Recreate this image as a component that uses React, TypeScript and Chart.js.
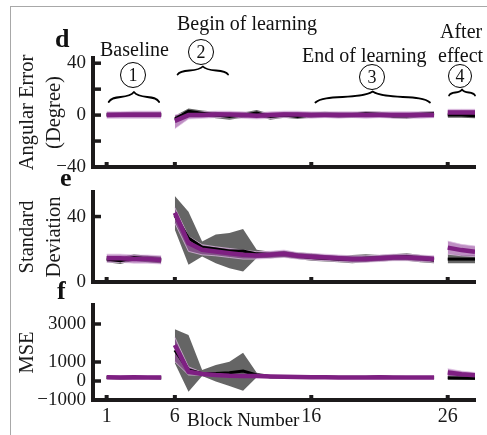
import React, { useEffect, useRef } from 'react';
import { Chart, registerables } from 'chart.js';

Chart.register(...registerables);

// ---------- data ----------
const BLOCKS = [1, 2, 3, 4, 5, 6, 7, 8, 9, 10, 11, 12, 13, 14, 15, 16, 17, 18, 19, 20, 21, 22, 23, 24, 25, 26, 27, 28];
const SEGMENTS = [[1, 5], [6, 25], [26, 28]];
const X_TICKS = [1, 6, 16, 26];

// d: angular error (degree)
const dBlackMean = [0.3, 0.2, 0.5, 0.4, 0.2, -3, 3, 1.5, 0, -1, 0, 1.5, -1, 0, -1, 0, 0.5, 0, 0, 1, 0.5, -0.5, -0.5, 0.5, 1, 0, 0, -0.5];
const dBlackLo = [-1.5, -1.5, -1, -1, -1.5, -6, 0.5, -0.5, -2.5, -3.5, -2, -0.5, -3.5, -2, -3, -2, -1.5, -2, -2, -1, -1.5, -2.5, -3, -1.5, -1, -2, -2, -2.5];
const dBlackHi = [2, 2, 2, 2, 2, -0.5, 5, 3.5, 2.5, 1.5, 2, 4, 1, 2, 1.5, 2, 2.5, 2, 2, 3, 2.5, 1.5, 1.5, 2.5, 3, 2, 2, 1.5];
const dPurpleMean = [0, 0.2, 0.2, 0.3, 0.3, -4.5, 0, 0, 0.5, 0.5, 0, -0.5, 0, 0.5, 0.5, 0, 0, 0, 0, 0, 0, 0, 0, 0, 0, 2, 2, 2];
const dPurpleLo = [-2.5, -2.5, -2.5, -2.5, -2.5, -10.5, -3, -2.5, -2, -2, -2.5, -3, -2.5, -2, -2, -2.5, -2, -2.5, -2, -2.5, -2, -2.5, -2.5, -2.5, -2, -0.5, -0.5, -0.5];
const dPurpleHi = [2.5, 2.5, 3, 3, 3, 0, 2.5, 2.5, 3, 3, 2.5, 2, 2.5, 3, 3, 2.5, 2.5, 2.5, 2.5, 2.5, 2.5, 2.5, 2.5, 2.5, 2.5, 4.5, 4.5, 4.5];
const dTicks = [-40, -20, 0, 20, 40];
const dLabeled = [-40, 0, 40];

// e: standard deviation
const eBlackMean = [14, 13, 15, 14, 13.5, 40.6, 26.9, 21.3, 20.1, 19, 19, 17.2, 16.6, 17.2, 16, 15, 14.5, 14, 14, 14.5, 14.5, 15, 15.5, 14.5, 13.5, 14, 14, 14];
const eBlackLo = [12, 11, 13, 12, 11.5, 32, 10.5, 15.6, 11.5, 8.4, 6.4, 14.6, 14.5, 15, 14, 13, 12.5, 12, 11.5, 12, 12.5, 13, 13, 12, 11.5, 11.5, 11.5, 11.5];
const eBlackHi = [16, 15, 17, 16, 15.5, 52.5, 43, 24.8, 29, 30, 32.4, 19.7, 18.5, 19, 18, 17.5, 16.5, 16, 16.5, 17, 16.5, 17, 17.5, 16.5, 15.5, 17, 16.5, 16];
const ePurpleMean = [14.5, 14.5, 14, 14, 13.5, 42.3, 23.8, 19.7, 18.7, 17.6, 16.6, 16.2, 16.6, 17.2, 16, 15.5, 15, 14.5, 14, 14, 14.5, 15, 15, 14.5, 14, 21, 19.5, 18.5];
const ePurpleLo = [12, 12, 11.5, 11.5, 11, 36, 18.7, 16.6, 16, 15, 14, 14, 14.5, 15, 14, 13.5, 13, 12.5, 12, 12, 12.5, 13, 13, 12.5, 12, 17, 16, 15.5];
const ePurpleHi = [17, 17, 16.5, 16.5, 16, 45.5, 27.9, 22.8, 21.5, 20.5, 19.5, 18.5, 18.8, 19.5, 18, 17.5, 17, 16.5, 16, 16, 16.5, 17, 17, 16.5, 16, 25, 23, 22];
const eTicks = [0, 40];
const eLabeled = [0, 40];

// f: MSE
const fBlackMean = [180, 170, 190, 180, 170, 1630, 580, 400, 400, 440, 525, 315, 230, 220, 210, 200, 200, 190, 190, 190, 200, 190, 180, 180, 180, 170, 160, 150];
const fBlackLo = [100, 90, 110, 100, 90, 930, -560, 260, -30, -260, -510, 195, 150, 140, 130, 120, 120, 110, 110, 110, 120, 110, 100, 100, 100, 50, 50, 50];
const fBlackHi = [260, 250, 270, 260, 250, 2720, 2420, 580, 840, 1015, 1490, 440, 310, 300, 290, 280, 280, 270, 270, 270, 280, 270, 260, 260, 260, 300, 280, 260];
const fPurpleMean = [200, 190, 200, 190, 180, 1895, 490, 370, 315, 280, 263, 263, 240, 220, 210, 200, 200, 190, 190, 190, 200, 190, 180, 180, 180, 450, 350, 300];
const fPurpleLo = [110, 100, 110, 100, 90, 1020, 315, 300, 250, 220, 200, 200, 180, 160, 150, 140, 140, 130, 130, 130, 140, 130, 120, 120, 120, 250, 200, 180];
const fPurpleHi = [290, 280, 290, 280, 270, 2300, 750, 450, 380, 340, 330, 330, 300, 280, 270, 260, 260, 250, 250, 250, 260, 250, 240, 240, 240, 650, 520, 450];
const fTicks = [-1000, 0, 1000, 3000];
const fLabeled = [-1000, 0, 1000, 3000];

// ---------- style ----------
const SERIF = '"Liberation Serif", "Times New Roman", serif';
const AXIS = '#1c1a1b';
const PURPLE = '#7e2082';
const PURPLE_BAND = 'rgba(150, 75, 158, 0.62)';
const PURPLE_EDGE = 'rgba(225, 195, 228, 0.9)';
const GRAY_BAND = 'rgba(80, 80, 80, 0.88)';

const fmt = (v: number) => (v < 0 ? '\u2212' + Math.abs(v) : String(v));

const axisNubs = {
  id: 'axisNubs',
  afterDatasetsDraw(chart: any) {
    const { ctx, chartArea, scales } = chart;
    ctx.save();
    ctx.strokeStyle = AXIS;
    ctx.lineCap = 'butt';
    ctx.lineWidth = 3.5;
    scales.y.ticks.forEach((t: any) => {
      const p = scales.y.getPixelForValue(t.value);
      ctx.beginPath();
      ctx.moveTo(chartArea.left, p);
      ctx.lineTo(chartArea.left + 8, p);
      ctx.stroke();
    });
    ctx.lineWidth = 4;
    scales.x.ticks.forEach((t: any) => {
      const p = scales.x.getPixelForValue(t.value);
      ctx.beginPath();
      ctx.moveTo(p, chartArea.bottom);
      ctx.lineTo(p, chartArea.bottom - 5);
      ctx.stroke();
    });
    ctx.restore();
  },
};

const bracePlugin = {
  id: 'braces',
  afterDraw(chart: any, _args: any, opts: any) {
    const items = opts && opts.items;
    if (!items) return;
    const { ctx } = chart;
    const xs = chart.scales.x;
    ctx.save();
    ctx.strokeStyle = '#000';
    ctx.lineWidth = 1.8;
    ctx.lineCap = 'round';
    ctx.lineJoin = 'round';
    for (const b of items) {
      const x1 = xs.getPixelForValue(b.from);
      const x2 = xs.getPixelForValue(b.to);
      const W = x2 - x1;
      const mid = (x1 + x2) / 2;
      const y = b.y;
      const h = b.h;
      ctx.beginPath();
      ctx.moveTo(x1, y + h);
      ctx.bezierCurveTo(x1 + 0.08 * W, y - 0.6 * h, mid - 0.12 * W, y + 0.6 * h, mid, y - h);
      ctx.bezierCurveTo(mid + 0.12 * W, y + 0.6 * h, x2 - 0.08 * W, y - 0.6 * h, x2, y + h);
      ctx.stroke();
    }
    ctx.restore();
  },
};

type Spec = {
  blackMean: number[]; blackLo: number[]; blackHi: number[];
  purpleMean: number[]; purpleLo: number[]; purpleHi: number[];
  yMin: number; yMax: number; yTicks: number[]; yLabeled: number[];
  title: string[]; showX: boolean; padTop: number; xHeight: number; height: number;
  braces?: any[];
};

function buildDatasets(p: Spec) {
  const ds: any[] = [];
  for (const [a, b] of SEGMENTS) {
    const idx = BLOCKS.map((_, i) => i).filter((i) => BLOCKS[i] >= a && BLOCKS[i] <= b);
    const pts = (arr: number[]) => idx.map((i) => ({ x: BLOCKS[i], y: arr[i] }));
    const gLo = ds.length;
    ds.push({ data: pts(p.blackLo), borderColor: 'rgba(0,0,0,0)', borderWidth: 0, pointRadius: 0, fill: false, order: 10 });
    ds.push({ data: pts(p.blackHi), borderColor: 'rgba(0,0,0,0)', borderWidth: 0, pointRadius: 0, fill: gLo, backgroundColor: GRAY_BAND, order: 10 });
    const pLo = ds.length;
    ds.push({ data: pts(p.purpleLo), borderColor: PURPLE_EDGE, borderWidth: 0.8, pointRadius: 0, fill: false, order: 8 });
    ds.push({ data: pts(p.purpleHi), borderColor: PURPLE_EDGE, borderWidth: 0.8, pointRadius: 0, fill: pLo, backgroundColor: PURPLE_BAND, order: 8 });
    ds.push({ data: pts(p.blackMean), borderColor: '#000', borderWidth: 3, pointRadius: 0, fill: false, order: 2 });
    ds.push({ data: pts(p.purpleMean), borderColor: PURPLE, borderWidth: 4.5, pointRadius: 0, fill: false, order: 1 });
  }
  return ds;
}

function makeConfig(p: Spec): any {
  return {
    type: 'line',
    data: { datasets: buildDatasets(p) },
    plugins: [axisNubs, bracePlugin],
    options: {
      animation: false,
      responsive: false,
      layout: { padding: { top: p.padTop, right: 12, left: 0, bottom: 0 } },
      elements: { line: { tension: 0 } },
      plugins: {
        legend: { display: false },
        tooltip: { enabled: false },
        braces: { items: p.braces || null },
      },
      scales: {
        x: {
          type: 'linear',
          min: 0,
          max: 28,
          afterBuildTicks: (s: any) => { s.ticks = X_TICKS.map((v) => ({ value: v })); },
          afterFit: (s: any) => { s.height = p.xHeight; s.paddingLeft = 0; s.paddingRight = 0; s.paddingTop = 0; s.paddingBottom = 0; },
          grid: { display: false, drawTicks: false },
          border: { display: true, width: 4, color: AXIS },
          ticks: {
            display: p.showX,
            autoSkip: false,
            maxRotation: 0,
            padding: 5,
            color: '#1a1a1a',
            font: { family: SERIF, size: 20 },
            callback: (v: any) => String(v),
          },
        },
        y: {
          type: 'linear',
          min: p.yMin,
          max: p.yMax,
          afterBuildTicks: (s: any) => { s.ticks = p.yTicks.map((v) => ({ value: v })); },
          afterFit: (s: any) => { s.width = 93; s.paddingTop = 0; s.paddingBottom = 0; s.paddingLeft = 0; s.paddingRight = 0; },
          grid: { display: false, drawTicks: false },
          border: { display: true, width: 4, color: AXIS },
          ticks: {
            autoSkip: false,
            padding: 7,
            color: '#1a1a1a',
            font: { family: SERIF, size: 19 },
            callback: (v: any) => (p.yLabeled.includes(v) ? fmt(v) : ''),
          },
          title: {
            display: true,
            text: p.title,
            color: '#1a1a1a',
            font: { family: SERIF, size: 20.5, lineHeight: 1.3 },
            padding: { top: 14.5, bottom: 0 },
          },
        },
      },
    },
  };
}

const SPEC_D: Spec = {
  blackMean: dBlackMean, blackLo: dBlackLo, blackHi: dBlackHi,
  purpleMean: dPurpleMean, purpleLo: dPurpleLo, purpleHi: dPurpleHi,
  yMin: -40, yMax: 44, yTicks: dTicks, yLabeled: dLabeled,
  title: ['Angular Error', '(Degree)'], showX: false, padTop: 58, xHeight: 8, height: 175,
  braces: [
    { from: 1.15, to: 4.85, y: 97, h: 5 },
    { from: 6.2, to: 9.9, y: 70.5, h: 4 },
    { from: 16.3, to: 24.7, y: 97, h: 5.5 },
    { from: 26.1, to: 28, y: 92.5, h: 3 },
  ],
};
const SPEC_E: Spec = {
  blackMean: eBlackMean, blackLo: eBlackLo, blackHi: eBlackHi,
  purpleMean: ePurpleMean, purpleLo: ePurpleLo, purpleHi: ePurpleHi,
  yMin: 0, yMax: 55, yTicks: eTicks, yLabeled: eLabeled,
  title: ['Standard', 'Deviation'], showX: false, padTop: 17, xHeight: 8, height: 115,
};
const SPEC_F: Spec = {
  blackMean: fBlackMean, blackLo: fBlackLo, blackHi: fBlackHi,
  purpleMean: fPurpleMean, purpleLo: fPurpleLo, purpleHi: fPurpleHi,
  yMin: -1000, yMax: 4000, yTicks: fTicks, yLabeled: fLabeled,
  title: ['MSE'], showX: true, padTop: 15, xHeight: 35, height: 145,
};

function Panel({ spec, top }: { spec: Spec; top: number }) {
  const ref = useRef<HTMLCanvasElement>(null);
  useEffect(() => {
    const chart = new Chart(ref.current as HTMLCanvasElement, makeConfig(spec));
    return () => chart.destroy();
  }, [spec]);
  return (
    <canvas
      ref={ref}
      width={487}
      height={spec.height}
      style={{ position: 'absolute', left: 0, top, width: 487, height: spec.height }}
    />
  );
}

const txt = (left: number, top: number, size = 20, bold = false): React.CSSProperties => ({
  position: 'absolute',
  left,
  top,
  fontFamily: SERIF,
  fontSize: size,
  fontWeight: bold ? 700 : 400,
  lineHeight: 1,
  whiteSpace: 'nowrap',
  color: '#111',
});

function Circled({ n, cx, cy, r }: { n: string; cx: number; cy: number; r: number }) {
  return (
    <div
      style={{
        position: 'absolute',
        left: cx - r,
        top: cy - r,
        width: 2 * r,
        height: 2 * r,
        border: '1.6px solid #000',
        borderRadius: '50%',
        boxSizing: 'border-box',
        display: 'flex',
        alignItems: 'center',
        justifyContent: 'center',
        fontFamily: SERIF,
        fontSize: 18,
        lineHeight: 1,
        color: '#111',
      }}
    >
      {n}
    </div>
  );
}

export default function App() {
  return (
    <div style={{ position: 'absolute', left: 0, top: 0, width: 487, height: 435, overflow: 'hidden', background: '#fff' }}>
      <div style={{ position: 'absolute', left: 10, top: 6, width: 480, height: 440, borderTop: '1.5px solid #a8a8a8', borderLeft: '1.5px solid #a8a8a8' }} />
      <Panel spec={SPEC_D} top={0} />
      <Panel spec={SPEC_E} top={175} />
      <Panel spec={SPEC_F} top={290} />
      <div style={txt(55, 26, 26, true)}>d</div>
      <div style={txt(60, 165, 26, true)}>e</div>
      <div style={txt(57, 278, 26, true)}>f</div>
      <div style={txt(100, 39)}>Baseline</div>
      <div style={txt(177, 13)}>Begin of learning</div>
      <div style={txt(302, 45)}>End of learning</div>
      <div style={txt(440, 21)}>After</div>
      <div style={txt(438, 45)}>effect</div>
      <Circled n="1" cx={133} cy={75} r={13} />
      <Circled n="2" cx={201} cy={52} r={13} />
      <Circled n="3" cx={372} cy={77} r={13} />
      <Circled n="4" cx={460} cy={76} r={12} />
      <div style={txt(187, 410, 19)}>Block Number</div>
    </div>
  );
}
